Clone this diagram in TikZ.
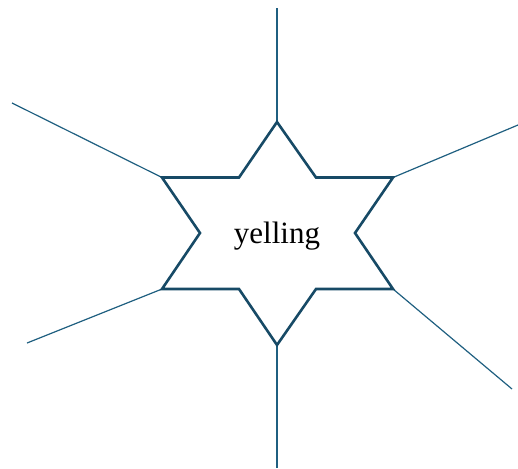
\documentclass[tikz,border=0pt]{standalone}
\usepackage{fontspec}
\setmainfont{Liberation Serif}
\begin{document}
\begin{tikzpicture}[x=1pt,y=-1pt,
  starline/.style={draw=starcol,line width=2.6pt,line join=miter},
  spoke/.style={draw=spokecol,line width=1.2pt}]
\definecolor{starcol}{HTML}{174A66}
\definecolor{spokecol}{HTML}{1F5F80}
\useasboundingbox (0,0) rectangle (518,468);
% outer points
\coordinate (pT) at (277,122);
\coordinate (pUR) at (393,177.5);
\coordinate (pLR) at (393,289);
\coordinate (pB) at (277,345);
\coordinate (pLL) at (162,289);
\coordinate (pUL) at (162,177.5);
% inner vertices
\coordinate (iUR) at (316,177.5);
\coordinate (iR) at (355,233);
\coordinate (iLR) at (316,289);
\coordinate (iLL) at (239,289);
\coordinate (iL) at (200,233);
\coordinate (iUL) at (239,177.5);
% spoke ends
\coordinate (eT) at (277,8);
\coordinate (eUR) at (518,125);
\coordinate (eLR) at (512,389);
\coordinate (eB) at (277,468);
\coordinate (eLL) at (27,343);
\coordinate (eUL) at (12,103);
\draw[spoke] (pT) -- (eT);
\draw[spoke] (pUR) -- (eUR);
\draw[spoke] (pLR) -- (eLR);
\draw[spoke] (pB) -- (eB);
\draw[spoke] (pLL) -- (eLL);
\draw[spoke] (pUL) -- (eUL);
\draw[starline,fill=white] (pT) -- (iUR) -- (pUR) -- (iR) -- (pLR) -- (iLR) -- (pB) -- (iLL) -- (pLL) -- (iL) -- (pUL) -- (iUL) -- cycle;
\node (lbl) at (277,236) {\fontsize{31}{36}\selectfont yelling};
\end{tikzpicture}
\end{document}
